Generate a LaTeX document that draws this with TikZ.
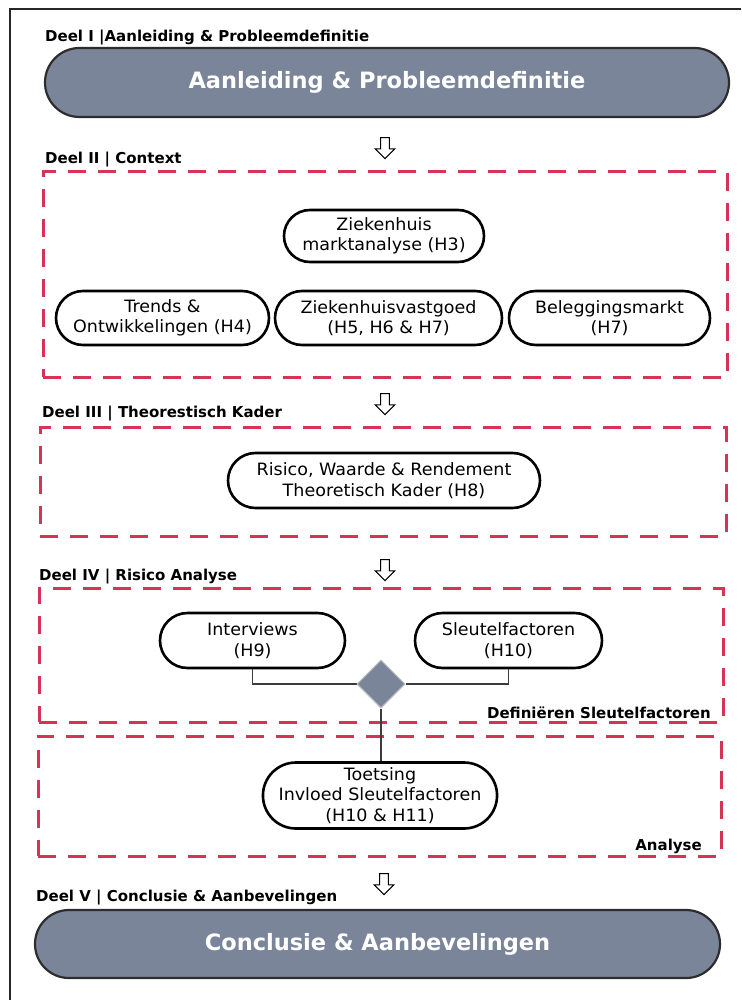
\documentclass[tikz,border=0pt]{standalone}
\usepackage{fontspec}
\setmainfont{DejaVu Sans}
\newfontfamily\boxfont{DejaVu Sans}[FakeStretch=1.03]
\usetikzlibrary{shapes.misc,shapes.geometric,shapes.arrows}

\definecolor{slate}{RGB}{122,133,153}
\definecolor{bannerline}{RGB}{45,45,48}
\definecolor{zonered}{RGB}{214,52,86}
\definecolor{linkgray}{RGB}{60,60,60}
\definecolor{mergeline}{RGB}{190,190,190}

\tikzset{
  frameline/.style={draw=black!85, line width=2pt},
  partlabel/.style={inner sep=0pt, font=\fontsize{15}{18}\selectfont\bfseries},
  banner/.style={rounded rectangle, draw=bannerline, line width=2.2pt, fill=slate,
    text=white, inner sep=0pt, font=\fontsize{22.5}{27}\selectfont\bfseries},
  topic/.style={rounded rectangle, draw=black, line width=2.6pt, fill=white,
    align=center, inner sep=0pt, font=\boxfont\fontsize{17}{20.5}\selectfont},
  zone/.style={rectangle, draw=zonered, line width=3pt,
    dash pattern=on 18pt off 12pt, inner sep=0pt},
  flowarrow/.style={single arrow, draw=black, line width=1pt, fill=white,
    rotate=-90, minimum height=21pt, inner sep=3.8pt,
    single arrow head extend=5.5pt, single arrow tip angle=90},
  link/.style={draw=linkgray, line width=1.2pt},
  merge/.style={diamond, fill=slate, draw=mergeline, line width=1pt,
    minimum width=48pt, minimum height=48pt, inner sep=0pt}
}

\begin{document}
\begin{tikzpicture}[x=1pt, y=-1pt]
  \useasboundingbox (0,0) rectangle (741,1000);

  % page frame (top and left edges)
  \draw[frameline] (10,1000) -- (10,9) -- (741,9);

  % Part I
  \node[partlabel, anchor=west] (lblI) at (45,38) {Deel I |Aanleiding \& Probleemdefinitie};
  \node[banner, minimum width=684pt, minimum height=69pt] (intro) at (387,82.5)
    {Aanleiding \& Probleemdefinitie};
  \node[flowarrow] (arrI) at (385,146) {};

  % Part II
  \node[partlabel, anchor=west] (lblII) at (45,160) {Deel II | Context};
  \node[zone, minimum width=684pt, minimum height=205pt] (zoneII) at (385,274.5) {};
  \node[topic, minimum width=200pt, minimum height=52pt] (markt) at (384,236)
    {Ziekenhuis\\marktanalyse (H3)};
  \node[topic, minimum width=213pt, minimum height=54pt] (trends) at (162.5,318)
    {Trends \&\\Ontwikkelingen (H4)};
  \node[topic, minimum width=227pt, minimum height=54pt] (vastgoed) at (388.5,318)
    {Ziekenhuisvastgoed\\(H5, H6 \& H7)};
  \node[topic, minimum width=201pt, minimum height=54pt] (beleg) at (609.5,318)
    {Beleggingsmarkt\\(H7)};
  \node[flowarrow] (arrII) at (385,402) {};

  % Part III
  \node[partlabel, anchor=west] (lblIII) at (42,414) {Deel III | Theorestisch Kader};
  \node[zone, minimum width=686pt, minimum height=109pt] (zoneIII) at (383,481.5) {};
  \node[topic, minimum width=312pt, minimum height=55pt] (kader) at (384,480.5)
    {Risico, Waarde \& Rendement\\Theoretisch Kader (H8)};
  \node[flowarrow] (arrIII) at (385,568) {};

  % Part IV
  \node[partlabel, anchor=west] (lblIV) at (39,577) {Deel IV | Risico Analyse};
  \node[zone, minimum width=684pt, minimum height=134pt] (zoneIV) at (381,655) {};
  \node[partlabel, anchor=east] (lblDef) at (711,713) {Definiëren Sleutelfactoren};
  \node[zone, minimum width=683pt, minimum height=120pt] (zoneV) at (379.5,796) {};
  \node[partlabel, anchor=east] (lblAna) at (702,846) {Analyse};

  \node[topic, minimum width=185pt, minimum height=55pt] (intv) at (252.5,640.5)
    {Interviews\\(H9)};
  \node[topic, minimum width=187pt, minimum height=55pt] (sleutel) at (508.5,640.5)
    {Sleutelfactoren\\(H10)};
  \node[merge] (join) at (381,684) {};
  \node[topic, minimum width=226pt, minimum height=66pt] (toets) at (380,795.5)
    {Toetsing\\Invloed Sleutelfactoren\\(H10 \& H11)};

  \draw[link] (intv.south) |- (join.west);
  \draw[link] (sleutel.south) |- (join.east);
  \draw[link] (join.south) -- (join.south |- toets.north);
  \node[merge] at (join) {};

  \node[flowarrow] (arrIV) at (384,882) {};

  % Part V
  \node[partlabel, anchor=west] (lblV) at (36,898) {Deel V | Conclusie \& Aanbevelingen};
  \node[banner, minimum width=685pt, minimum height=68pt] (concl) at (377.5,944)
    {Conclusie \& Aanbevelingen};
\end{tikzpicture}
\end{document}
